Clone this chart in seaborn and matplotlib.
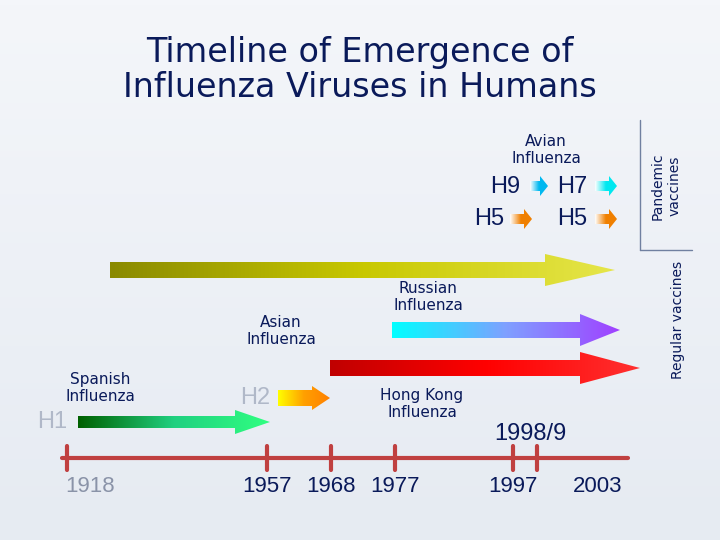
import numpy as np
import matplotlib
matplotlib.use("Agg")
import matplotlib.pyplot as plt
import seaborn as sns
from matplotlib.patches import Polygon
from matplotlib.colors import LinearSegmentedColormap

sns.set_theme(style="white")
plt.rcParams['font.family'] = ['DejaVu Sans']

# timeline data
years = [1918, 1957, 1968, 1977, 1997, 1998.5]
year_x = [67, 267, 331, 395, 513, 537]
year_labels = ["1918", "1957", "1968", "1977", "1997", "2003"]
label_x = [90, 267, 331, 395, 513, 598]
label_col = ["#8a93a8", "#0a1a5a", "#0a1a5a", "#0a1a5a", "#0a1a5a", "#0a1a5a"]

# gradient arrows: (x start, x end, y centre, half height, head half height, head length, colours)
arrows = [
    (110, 615, 270, 8, 16, 70, ["#8a8a00", "#c8c800", "#e6e64a"]),
    (392, 620, 330, 8, 16, 40, ["#00ffff", "#7fa0ff", "#a040ff"]),
    (330, 640, 368, 8, 16, 60, ["#c00000", "#ff0000", "#ff3030"]),
    (78, 270, 422, 6, 12, 35, ["#006000", "#20d080", "#30ff80"]),
    (278, 330, 398, 8, 12, 18, ["#ffff00", "#ffa000", "#ff8000"]),
]
small_arrows = [(530, 548, 186, "#00b8f0"), (510, 532, 219, "#f08000"),
                (595, 617, 186, "#00e8f0"), (595, 617, 219, "#f08000")]

fig = plt.figure(figsize=(7.2, 5.4), dpi=100)
ax = fig.add_axes([0, 0, 1, 1])
ax.set_xlim(0, 720)
ax.set_ylim(540, 0)
ax.axis("off")

bg = np.linspace(0, 1, 100).reshape(-1, 1)
ax.imshow(bg, extent=[0, 720, 540, 0], aspect="auto", zorder=0,
          cmap=LinearSegmentedColormap.from_list("bg", ["#f4f6fa", "#e6ebf2"]))

def grad_arrow(x0, x1, yc, h, hh, hl, cols):
    xb = x1 - hl
    pts = [(x0, yc - h), (xb, yc - h), (xb, yc - hh), (x1, yc), (xb, yc + hh),
           (xb, yc + h), (x0, yc + h)]
    poly = Polygon(pts, closed=True, facecolor="none", edgecolor="none")
    ax.add_patch(poly)
    cm = LinearSegmentedColormap.from_list("g", cols)
    im = ax.imshow(np.linspace(0, 1, 256).reshape(1, -1), cmap=cm, aspect="auto",
                   extent=[x0, x1, yc + hh, yc - hh], zorder=2)
    im.set_clip_path(poly)

for a in arrows:
    grad_arrow(*a)
for x0, x1, yc, c in small_arrows:
    grad_arrow(x0, x1, yc, 5, 10, 8, ["#ffffff", c, c])

# timeline
ax.plot([62, 628], [458, 458], color="#c04040", lw=3, zorder=3)
for x in year_x:
    ax.plot([x, x], [446, 470], color="#c04040", lw=3, zorder=3)
for x, lab, c in zip(label_x, year_labels, label_col):
    ax.text(x, 486, lab, ha="center", va="center", fontsize=16, color=c,
            family="Liberation Sans")

tc = "#0a1a5a"
ar = dict(family="Liberation Sans", fontsize=17)
ax.text(360, 70, "Timeline of Emergence of\nInfluenza Viruses in Humans", ha="center",
        va="center", fontsize=24, color=tc, linespacing=1.1)
ax.text(546, 150, "Avian\nInfluenza", ha="center", va="center", fontsize=11, color=tc)
ax.text(505, 187, "H9", ha="center", va="center", color=tc, **ar)
ax.text(572, 187, "H7", ha="center", va="center", color=tc, **ar)
ax.text(489, 219, "H5", ha="center", va="center", color=tc, **ar)
ax.text(572, 219, "H5", ha="center", va="center", color=tc, **ar)
ax.text(428, 297, "Russian\nInfluenza", ha="center", va="center", fontsize=11, color=tc)
ax.text(281, 331, "Asian\nInfluenza", ha="center", va="center", fontsize=11, color=tc)
ax.text(100, 388, "Spanish\nInfluenza", ha="center", va="center", fontsize=11, color=tc)
ax.text(422, 404, "Hong Kong\nInfluenza", ha="center", va="center", fontsize=11, color=tc)
ax.text(530, 434, "1998/9", ha="center", va="center", color=tc, **ar)
ax.text(52, 422, "H1", ha="center", va="center", color="#b0b8c8", **ar)
ax.text(255, 398, "H2", ha="center", va="center", color="#b0b8c8", **ar)
ax.text(666, 186, "Pandemic\nvaccines", ha="center", va="center", fontsize=10,
        color=tc, rotation=90)
ax.text(678, 320, "Regular vaccines", ha="center", va="center", fontsize=10,
        color=tc, rotation=90)
ax.plot([640, 692], [250, 250], color="#7080a0", lw=1)
ax.plot([640, 640], [120, 250], color="#7080a0", lw=1)

fig.savefig("out.png", dpi=100)
